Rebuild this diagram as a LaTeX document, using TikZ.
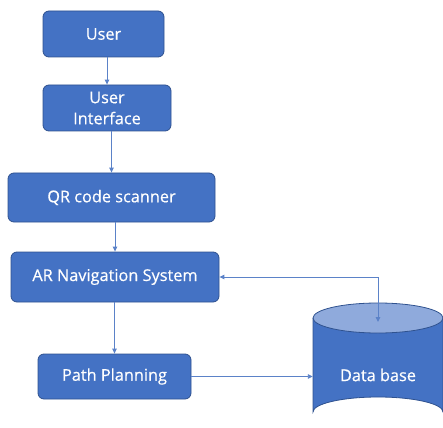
\documentclass[tikz,border=0pt]{standalone}
\usepackage{fontspec}
\setmainfont{Open Sans}
\newfontfamily\boxfont{Open Sans}[FakeBold=0.5]
\usetikzlibrary{arrows.meta}
\definecolor{boxfill}{HTML}{4472C4}
\definecolor{boxline}{HTML}{2F528F}
\definecolor{topfill}{HTML}{8FAADC}
\definecolor{arrowc}{HTML}{5B82C8}
\begin{document}
\begin{tikzpicture}[x=1pt,y=-1pt,
  lbl/.style={text=white, font=\boxfont\fontsize{16.3}{21}\selectfont},
  box/.style={lbl, draw=boxline, fill=boxfill, line width=0.8pt, rounded corners=6pt,
    align=center, inner sep=0pt},
  arr/.style={draw=arrowc, line width=0.9pt, -{Triangle[length=5pt,width=4.5pt]}}]
\useasboundingbox (0,0) rectangle (443,427);
\node[box, minimum width=121pt, minimum height=46pt] (user) at (103.5,34) {User};
\node[box, minimum width=128pt, minimum height=46pt] (ui) at (107,108) {User\\Interface};
\node[box, minimum width=207pt, minimum height=49pt] (qr) at (111.5,197.5) {QR code scanner};
\node[box, minimum width=208pt, minimum height=50pt] (ar) at (115,277) {AR Navigation System};
\node[box, minimum width=153pt, minimum height=45pt] (pp) at (114.5,376.5) {Path Planning};
% database cylinder
\draw[boxline, fill=boxfill, line width=0.8pt] (313,318) -- (313,412) arc[start angle=180, end angle=360, x radius=65, y radius=15] -- (443,318);
\draw[boxline, fill=topfill, line width=0.8pt] (378,318) ellipse[x radius=65, y radius=15];
\node[lbl, minimum width=130pt, minimum height=94pt, inner sep=0pt] (db) at (378,375) {Data base};
\coordinate (dbtop) at (378,322);
% connectors
\draw[arr] (ui.north |- user.south) -- (ui.north);
\draw[arr] (ui.south -| qr.north) -- (qr.north);
\draw[arr] (qr.south -| ar.north) -- (ar.north);
\draw[arr] (ar.south -| pp.north) -- (pp.north);
\draw[arr, {Triangle[length=5pt,width=4.5pt]}-{Triangle[length=5pt,width=4.5pt]}] (ar.east) -| (dbtop);
\draw[arr] (pp.east) -- (db.west |- pp.east);
\end{tikzpicture}
\end{document}
